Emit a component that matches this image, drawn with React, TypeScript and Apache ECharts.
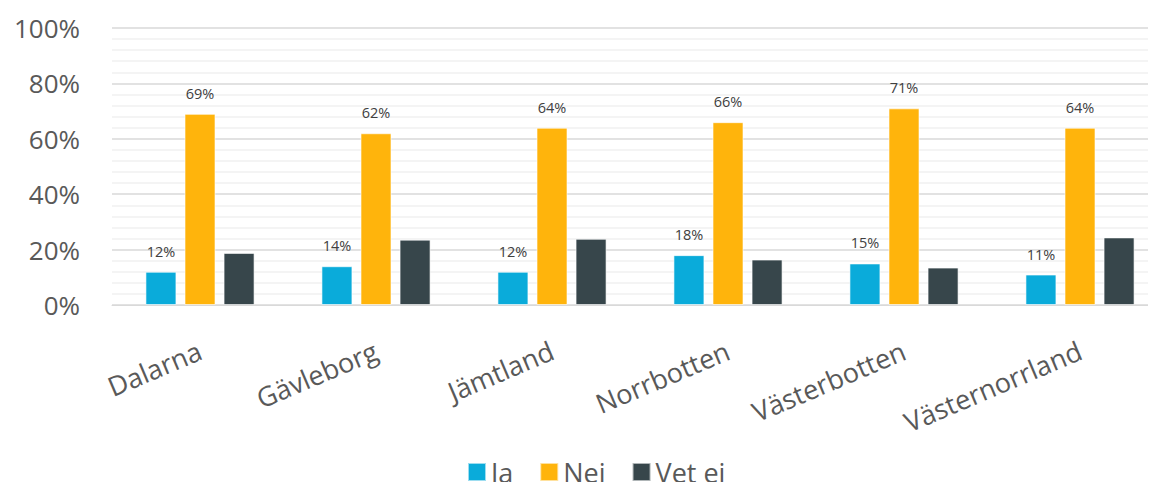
import React, { useEffect, useRef } from "react";
import * as echarts from "echarts";

const categories = ["Dalarna", "Gävleborg", "Jämtland", "Norrbotten", "Västerbotten", "Västernorrland"];
const ja = [12, 14, 12, 18, 15, 11];
const nej = [69, 62, 64, 66, 71, 64];
const vetEj = [18.8, 23.6, 23.9, 16.4, 13.5, 24.4];
const seriesNames = ["Ja", "Nej", "Vet ej"];
const colors = ["#0AABDA", "#FFB40C", "#37464B"];

export default function App() {
  const ref = useRef<HTMLDivElement>(null);
  useEffect(() => {
    if (!ref.current) return;
    const chart = echarts.init(ref.current, null, { renderer: "svg" });
    const font = "'Open Sans', 'Noto Sans', sans-serif";
    const mk = (name: string, data: number[], color: string, showLabel: boolean) => ({
      name,
      type: "bar",
      data,
      barWidth: 31,
      barGap: "26%",
      itemStyle: { color, borderColor: "rgba(255,255,255,0.6)", borderWidth: 1 },
      label: {
        show: showLabel,
        position: "top",
        distance: 13,
        formatter: (p: any) => Math.round(p.value) + "%",
        fontFamily: font,
        fontSize: 14.5,
        color: "#404040",
      },
    });
    chart.setOption({
      animation: false,
      textStyle: { fontFamily: font },
      grid: { left: 112, width: 1056, top: 28, bottom: 185, containLabel: false },
      legend: {
        data: seriesNames,
        top: 456,
        left: 467,
        padding: 0,
        itemWidth: 18,
        itemHeight: 18,
        itemGap: 26,
        icon: "rect",
        textStyle: { fontFamily: font, fontSize: 27, color: "#595959", lineHeight: 32 },
      },
      xAxis: {
        type: "category",
        data: categories,
        axisLine: { show: true, lineStyle: { color: "#D9D9D9", width: 1 } },
        axisTick: { show: false },
        axisLabel: {
          rotate: 23,
          margin: 44,
          fontFamily: font,
          fontSize: 27,
          color: "#595959",
          interval: 0,
        },
      },
      yAxis: {
        type: "value",
        min: 0,
        max: 100,
        interval: 20,
        axisLine: { show: false },
        axisTick: { show: false },
        axisLabel: {
          formatter: "{value}%",
          margin: 32,
          fontFamily: font,
          fontSize: 26,
          color: "#595959",
        },
        splitLine: { show: true, lineStyle: { color: "#D9D9D9", width: 1.5 } },
        minorTick: { show: false, splitNumber: 5 },
        minorSplitLine: { show: true, lineStyle: { color: "#F0F0F0", width: 1.5 } },
      },
      series: [
        mk(seriesNames[0], ja, colors[0], true),
        mk(seriesNames[1], nej, colors[1], true),
        mk(seriesNames[2], vetEj, colors[2], false),
      ],
    });
    return () => chart.dispose();
  }, []);
  return (
    <div style={{ width: 1156, height: 490, margin: -8, overflow: "hidden", position: "relative" }}>
      <div ref={ref} style={{ width: 1180, height: 490 }} />
    </div>
  );
}
